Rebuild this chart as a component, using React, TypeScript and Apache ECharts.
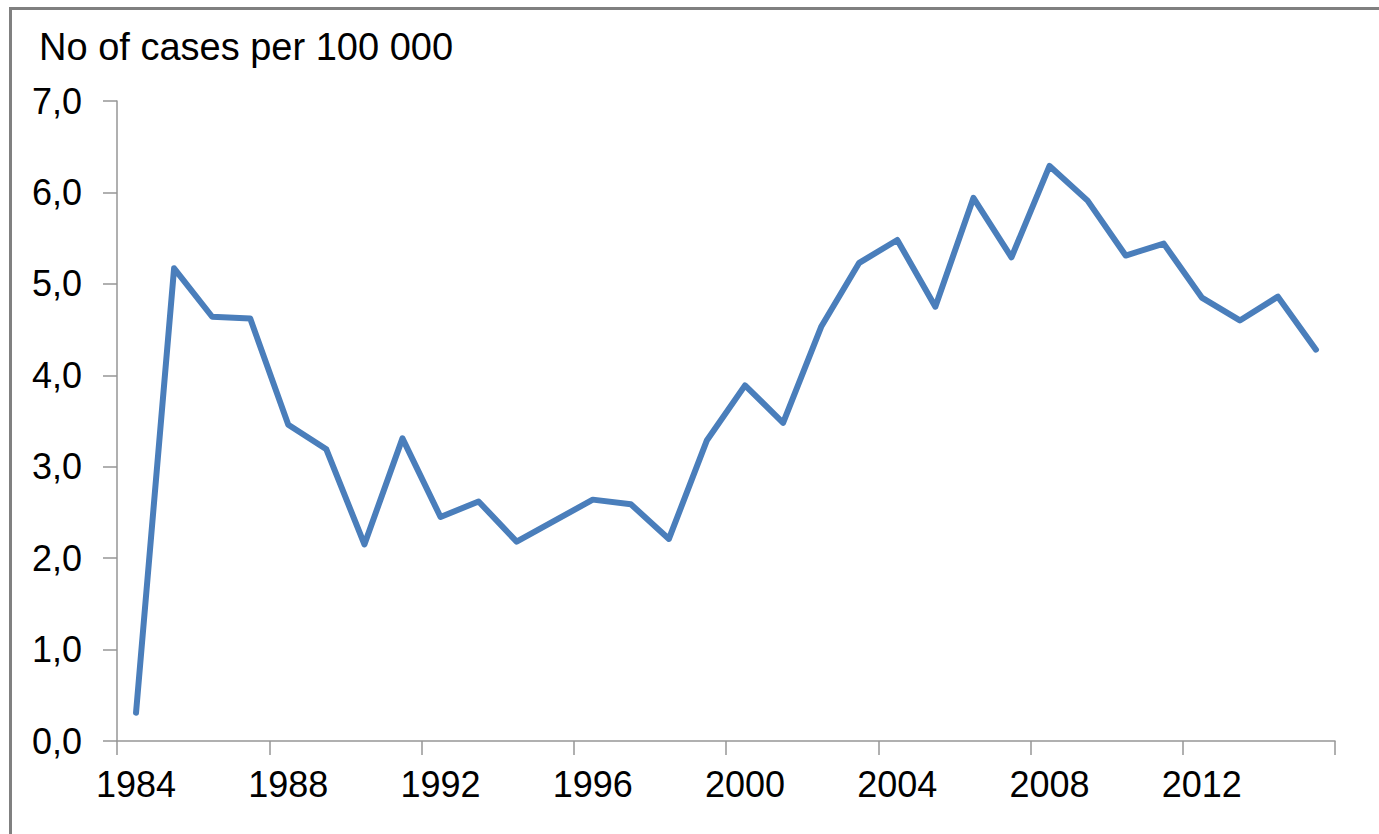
import React, { useEffect, useRef } from "react";
import * as echarts from "echarts";

const years: string[] = [
  "1984","1985","1986","1987","1988","1989","1990","1991","1992","1993","1994","1995",
  "1996","1997","1998","1999","2000","2001","2002","2003","2004","2005","2006","2007",
  "2008","2009","2010","2011","2012","2013","2014","2015",
];
const casesPer100k: number[] = [
  0.31, 5.17, 4.64, 4.62, 3.46, 3.19, 2.15, 3.31, 2.45, 2.62, 2.18, 2.41,
  2.64, 2.59, 2.21, 3.29, 3.89, 3.48, 4.53, 5.23, 5.48, 4.75, 5.94, 5.29,
  6.29, 5.91, 5.31, 5.44, 4.85, 4.6, 4.86, 4.28,
];
const yTitle = "No of cases per 100 000";

const FONT = "'Liberation Sans', Arial, sans-serif";

export default function App() {
  const ref = useRef<HTMLDivElement>(null);
  useEffect(() => {
    if (!ref.current) return;
    const chart = echarts.init(ref.current, null, { renderer: "svg" });
    const axisColor = "#969696";
    chart.setOption({
      animation: false,
      backgroundColor: "#ffffff",
      grid: { left: 117, right: 44, top: 101, bottom: 93 },
      graphic: [
        { type: "line", shape: { x1: 9, y1: 8.5, x2: 1379, y2: 8.5 }, style: { stroke: "#808080", lineWidth: 3 } },
        { type: "line", shape: { x1: 10.5, y1: 7, x2: 10.5, y2: 834 }, style: { stroke: "#808080", lineWidth: 3 } },
        {
          type: "text",
          left: 39,
          top: 28,
          style: { text: yTitle, font: `38px ${FONT}`, fill: "#000" },
        },
      ],
      xAxis: {
        type: "category",
        data: years,
        boundaryGap: true,
        axisLine: { show: true, lineStyle: { color: axisColor, width: 1.5 } },
        axisTick: { show: true, interval: 3, length: 14, lineStyle: { color: axisColor, width: 1.5 } },
        axisLabel: { interval: 3, margin: 25, fontSize: 36, fontFamily: FONT, color: "#000" },
        splitLine: { show: false },
      },
      yAxis: {
        type: "value",
        min: 0,
        max: 7,
        interval: 1,
        axisLine: { show: true, lineStyle: { color: axisColor, width: 1.5 } },
        axisTick: { show: true, length: 14, lineStyle: { color: axisColor, width: 1.5 } },
        axisLabel: {
          margin: 35,
          fontSize: 36,
          fontFamily: FONT,
          color: "#000",
          formatter: (v: number) => v.toFixed(1).replace(".", ","),
        },
        splitLine: { show: false },
      },
      series: [
        {
          type: "line",
          data: casesPer100k,
          symbol: "none",
          lineStyle: { color: "#4a7ebb", width: 6, cap: "round", join: "round" },
        },
      ],
    });
    return () => chart.dispose();
  }, []);
  return (
    <div
      ref={ref}
      style={{ position: "absolute", left: 0, top: 0, width: 1379, height: 834 }}
    />
  );
}
